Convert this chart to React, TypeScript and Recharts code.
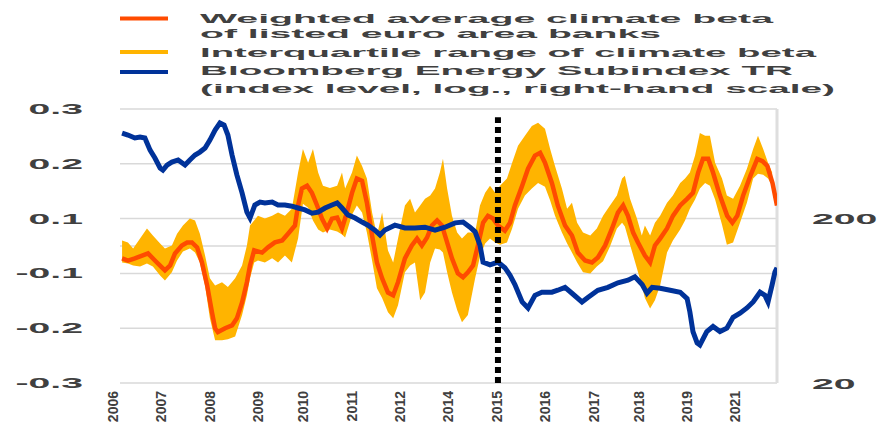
import React from "react";
import {
  ComposedChart,
  Area,
  Line,
  XAxis,
  YAxis,
  CartesianGrid,
  ReferenceLine,
} from "recharts";

// x positions are months counted from the start of 2006
const betaMonths = [
  0.6, 2.3, 4.3, 6.4, 8.1, 10.1, 12.1, 13.0, 14.5, 15.9, 17.9, 19.4, 20.8, 22.3, 23.7, 25.2,
  26.6, 27.5, 28.3, 30.4, 32.4, 33.8, 35.3, 36.7, 37.6, 38.8, 41.1, 42.8, 44.8, 46.9, 48.6,
  50.6, 51.5, 52.6, 54.1, 55.5, 57.0, 58.4, 59.9, 61.3, 62.8, 64.2, 65.6, 67.1, 68.5, 70.0,
  71.4, 72.9, 74.3, 75.8, 77.5, 79.0, 80.4, 82.4, 84.4, 85.9, 87.3, 88.8, 90.2, 91.7, 93.1,
  94.6, 96.0, 97.7, 99.2, 100.6, 102.1, 103.5, 105.0, 106.4, 107.9, 109.3, 111.3, 112.8,
  114.2, 116.3, 118.0, 120.0, 121.5, 122.9, 124.9, 126.6, 128.7, 130.7, 132.4, 134.5, 136.5,
  138.2, 140.3, 142.3, 144.0, 145.5, 146.9, 148.4, 149.8, 151.8, 153.3, 154.7, 156.2, 158.2,
  159.9, 162.0, 164.0, 165.7, 167.2, 168.6, 170.1, 171.5, 173.5, 175.6, 177.1, 178.5, 180.2,
  182.3, 184.3, 185.8, 187.2, 188.7, 190.0,
];
const betaValues = [
  -0.045, -0.053, -0.045, -0.035, -0.027, -0.053, -0.078, -0.089, -0.071, -0.027, 0.002, 0.013,
  0.013, -0.005, -0.06, -0.122, -0.171, -0.2, -0.207, -0.2, -0.195, -0.182, -0.153, -0.116,
  -0.071, -0.016, -0.024, -0.005, 0.013, 0.02, 0.045, 0.075, 0.124, 0.155, 0.16, 0.147, 0.124,
  0.1, 0.064, 0.1, 0.102, 0.064, 0.111, 0.147, 0.173, 0.169, 0.129, 0.038, -0.06, -0.109,
  -0.135, -0.14, -0.116, -0.045, 0.002, 0.027, 0.002, 0.031, 0.075, 0.093, 0.075, 0.013,
  -0.045, -0.1, -0.107, -0.096, -0.071, 0.002, 0.085, 0.105, 0.1, 0.075, 0.056, 0.085, 0.124,
  0.16, 0.191, 0.215, 0.22, 0.202, 0.165, 0.124, 0.075, 0.038, -0.024, -0.053, -0.06, -0.042,
  0.002, 0.064, 0.111, 0.124, 0.105, 0.049, 0.013, -0.035, -0.06, 0.002, 0.027, 0.064, 0.105,
  0.124, 0.136, 0.147, 0.184, 0.209, 0.209, 0.184, 0.142, 0.105, 0.085, 0.105, 0.142, 0.178,
  0.209, 0.205, 0.196, 0.165, 0.124,
];

const iqrMonths = [
  0.6, 2.3, 3.8, 5.8, 7.8, 9.5, 11.6, 13.0, 15.0, 16.5, 18.2, 20.2, 21.7, 23.1, 24.6, 26.0,
  27.5, 29.5, 31.2, 33.3, 35.3, 36.7, 37.6, 38.8, 39.9, 41.9, 44.0, 45.7, 47.7, 49.7, 51.5,
  52.9, 54.4, 55.8, 57.3, 58.7, 60.7, 62.8, 64.2, 65.1, 67.1, 68.5, 70.0, 71.4, 72.9, 74.3,
  75.8, 77.5, 79.0, 80.4, 82.4, 83.9, 85.3, 86.8, 88.2, 89.7, 91.1, 92.5, 93.4, 94.6, 96.0,
  97.5, 98.9, 100.6, 102.7, 104.1, 105.6, 107.0, 108.5, 109.9, 111.9, 113.4, 115.1, 117.1,
  119.1, 120.9, 122.9, 124.4, 125.8, 127.8, 129.3, 130.7, 132.2, 133.9, 136.0, 137.9, 139.7,
  141.7, 143.7, 145.2, 146.0, 147.5, 149.5, 150.9, 151.8, 153.3, 154.7, 156.2, 158.2, 159.9,
  162.0, 163.4, 164.8, 166.3, 167.7, 169.2, 170.6, 172.1, 174.1, 175.5, 177.3, 179.3, 181.3,
  183.1, 184.5, 186.0, 187.4, 188.6,
];
const iqrLow = [
  -0.06, -0.064, -0.071, -0.075, -0.064, -0.075, -0.104, -0.113, -0.096, -0.053, -0.02, -0.009,
  -0.024, -0.06, -0.122, -0.182, -0.222, -0.222, -0.22, -0.215, -0.176, -0.14, -0.109, -0.06,
  -0.053, -0.06, -0.045, -0.06, -0.035, -0.06, 0.027, 0.127, 0.12, 0.093, 0.06, 0.049, 0.06,
  0.053, 0.042, 0.031, 0.107, 0.124, 0.111, 0.049, -0.053, -0.127, -0.145, -0.171, -0.182,
  -0.158, -0.096, -0.071, -0.06, -0.149, -0.135, -0.06, -0.009, -0.013, -0.024, -0.096, -0.135,
  -0.167, -0.189, -0.176, -0.109, -0.038, 0.009, 0.027, 0.013, 0.005, 0.013, 0.064, 0.118,
  0.142, 0.155, 0.165, 0.158, 0.133, 0.105, 0.049, 0.009, -0.024, -0.06, -0.096, -0.1, -0.075,
  -0.056, -0.002, 0.064, 0.085, 0.071, 0.005, -0.082, -0.122, -0.145, -0.164, -0.149, -0.122,
  -0.024, 0.02, 0.06, 0.093, 0.118, 0.135, 0.155, 0.165, 0.16, 0.135, 0.078, 0.005, 0.013,
  0.085, 0.129, 0.173, 0.182, 0.18, 0.173, 0.16,
];
const iqrHigh = [
  0.02, 0.013, -0.009, 0.027, 0.064, 0.038, 0.009, -0.009, 0.002, 0.045, 0.075, 0.1, 0.093,
  0.045, -0.035, -0.109, -0.122, -0.116, -0.125, -0.109, -0.071, 0.002, 0.075, 0.093, 0.105,
  0.1, 0.105, 0.111, 0.105, 0.118, 0.184, 0.227, 0.202, 0.227, 0.184, 0.16, 0.156, 0.16, 0.184,
  0.155, 0.184, 0.215, 0.196, 0.173, 0.111, 0.038, 0.111, -0.016, -0.06, 0.027, 0.124, 0.136,
  0.111, 0.124, 0.136, 0.142, 0.155, 0.184, 0.209, 0.155, 0.105, 0.049, 0.027, 0.049, 0.049,
  0.124, 0.147, 0.16, 0.147, 0.16, 0.173, 0.202, 0.233, 0.251, 0.269, 0.275, 0.264, 0.227,
  0.196, 0.155, 0.118, 0.129, 0.085, 0.049, 0.038, 0.064, 0.105, 0.124, 0.142, 0.173, 0.178,
  0.136, 0.1, 0.038, 0.075, 0.038, 0.085, 0.105, 0.129, 0.142, 0.165, 0.173, 0.184, 0.215,
  0.256, 0.251, 0.251, 0.202, 0.173, 0.142, 0.136, 0.16, 0.191, 0.227, 0.251, 0.227, 0.202,
  0.184,
];

// Bloomberg Energy Subindex TR, index level (log scale)
const energyMonths = [
  0.6, 2.3, 4.3, 5.8, 7.2, 8.7, 10.1, 11.6, 12.4, 13.6, 15.0, 16.8, 18.8, 20.2, 21.7, 23.1,
  24.6, 26.0, 27.5, 28.9, 30.1, 31.2, 32.4, 33.8, 35.3, 36.7, 37.6, 39.0, 40.5, 41.9, 44.0,
  45.7, 47.7, 49.7, 51.5, 53.5, 55.5, 57.3, 59.3, 61.3, 62.8, 64.2, 65.9, 68.0, 70.0, 71.7,
  73.7, 75.2, 76.6, 79.5, 82.4, 85.3, 88.2, 91.1, 94.0, 96.9, 99.2, 101.2, 102.7, 104.1, 105.0,
  107.0, 109.3, 111.3, 112.8, 114.2, 116.3, 118.0, 120.0, 122.0, 124.9, 126.6, 128.7, 130.7,
  133.6, 135.3, 138.2, 141.1, 144.0, 146.9, 148.9, 151.0, 152.4, 153.9, 156.2, 159.1, 162.0,
  164.0, 164.8, 165.7, 166.9, 167.7, 169.7, 171.5, 173.5, 175.5, 177.3, 179.3, 181.3, 183.1,
  185.1, 186.5, 187.4, 188.6, 189.4, 190.0,
];
const energyIndex = [
  655, 637, 611, 619, 611, 516, 462, 402, 391, 419, 437, 450, 419, 450, 482, 502, 531, 594, 683,
  753, 732, 637, 482, 365, 284, 217, 200, 240, 250, 247, 250, 240, 240, 236, 230, 224, 214, 217,
  230, 240, 247, 230, 209, 200, 189, 181, 169, 158, 169, 181, 174, 174, 176, 169, 176, 187, 189,
  176, 165, 137, 108, 104, 108, 100, 90, 79, 62, 57, 68, 71, 71, 73, 76, 70, 62, 66, 73, 76, 81,
  84, 88, 79, 70, 76, 75, 73, 71, 65, 54, 41, 35, 34, 41, 44, 41, 43, 50, 53, 57, 62, 71, 68, 62,
  79, 94, 100,
];

const xTickMonths = [0, 14, 28, 42, 55, 69, 83, 97, 111, 125, 139, 152, 166, 180];
const xTickLabels = [
  "2006", "2007", "2008", "2009", "2010", "2011", "2012",
  "2014", "2015", "2016", "2017", "2018", "2019", "2021",
];
const leftTickValues = [0.3, 0.2, 0.1, -0.1, -0.2, -0.3];
const rightTickValues = [20, 200];
const parisMonth = 109.3;

const legendLines = [
  ["Weighted average climate beta", "of listed euro area banks"],
  ["Interquartile range of climate beta"],
  ["Bloomberg Energy Subindex TR", "(index level, log., right-hand scale)"],
];

const COLORS = {
  beta: "#ff4b00",
  iqr: "#ffb400",
  energy: "#003299",
  grid: "#d9d9d9",
  text: "#404040",
};
const FONT = '"Liberation Sans", Arial, sans-serif';
const STRETCH = 2.8; // lettering on the value axes is drawn wide

// the left scale squeezes the band between -0.1 and 0.1 to half a step
const toAxis = (v: number) =>
  v >= 0.1 ? 0.5 + (v - 0.1) * 10 : v <= -0.1 ? -0.5 + (v + 0.1) * 10 : v * 5;
const fromAxis = (u: number) =>
  u >= 0.5 ? 0.1 + (u - 0.5) / 10 : u <= -0.5 ? -0.1 + (u + 0.5) / 10 : u / 5;

const betaData = betaMonths.map((t, i) => ({ t, beta: toAxis(betaValues[i]) }));
const iqrData = iqrMonths.map((t, i) => ({
  t,
  range: [toAxis(iqrLow[i]), toAxis(iqrHigh[i])],
}));
const energyData = energyMonths.map((t, i) => ({ t, energy: energyIndex[i] }));
const leftTicks = [...leftTickValues.map(toAxis), 0];

const renderLeftTick = ({ x, y, payload }: any) => {
  const v = fromAxis(payload.value);
  if (Math.abs(v) < 1e-6) return <g />;
  return (
    <g transform={`translate(${x},${y}) scale(${STRETCH},1)`}>
      <text
        textAnchor="end"
        dy="0.36em"
        fontSize={14}
        fontWeight="bold"
        fontFamily={FONT}
        fill={COLORS.text}
      >
        {v.toFixed(1)}
      </text>
    </g>
  );
};

const renderRightTick = ({ x, y, payload }: any) => (
  <g transform={`translate(${x},${y}) scale(${STRETCH},1)`}>
    <text
      textAnchor="start"
      dy="0.45em"
      fontSize={14}
      fontWeight="bold"
      fontFamily={FONT}
      fill={COLORS.text}
    >
      {payload.value}
    </text>
  </g>
);

// year labels run upwards; the matrix turns the text a quarter turn anticlockwise
const renderYearTick = ({ x, y, payload }: any) => {
  const label = xTickLabels[xTickMonths.indexOf(payload.value)] ?? "";
  return (
    <g transform={`matrix(0,-1,1,0,${x - 7},${y})`}>
      <text
        x={0}
        y={0}
        textAnchor="end"
        dy="0.36em"
        fontSize={14}
        fontWeight="bold"
        fontFamily={FONT}
        fill={COLORS.text}
      >
        {label}
      </text>
    </g>
  );
};

function ChartLegend() {
  const swatchY = [18.5, 52, 72];
  const colors = [COLORS.beta, COLORS.iqr, COLORS.energy];
  const baselines = [[23, 38], [57], [75, 93]];
  const lengths = [[573, 461], [616], [593, 635]];
  return (
    <svg width={887} height={100} style={{ position: "absolute", left: 0, top: 0 }}>
      {legendLines.map((lines, i) => (
        <g key={i}>
          <line x1={120} x2={168} y1={swatchY[i]} y2={swatchY[i]} stroke={colors[i]} strokeWidth={4} />
          {lines.map((txt, j) => (
            <text
              key={j}
              x={200}
              y={baselines[i][j]}
              fontSize={13.5}
              fontWeight="bold"
              fontFamily={FONT}
              fill={COLORS.text}
              textLength={lengths[i][j]}
              lengthAdjust="spacingAndGlyphs"
            >
              {txt}
            </text>
          ))}
        </g>
      ))}
    </svg>
  );
}

export default function App() {
  return (
    <div
      style={{
        position: "absolute",
        left: 0,
        top: 0,
        width: 887,
        height: 427,
        background: "#ffffff",
      }}
    >
      <ComposedChart width={887} height={427} margin={{ top: 109, right: 0, bottom: 0, left: 0 }}>
        <CartesianGrid yAxisId="left" vertical={false} stroke={COLORS.grid} strokeWidth={1.5} />
        <XAxis
          type="number"
          dataKey="t"
          domain={[0, 190]}
          ticks={xTickMonths}
          interval={0}
          tick={renderYearTick}
          tickSize={0}
          tickMargin={8}
          axisLine={false}
          tickLine={false}
          height={44}
          allowDataOverflow
        />
        <YAxis
          yAxisId="left"
          type="number"
          domain={[-2.5, 2.5]}
          ticks={leftTicks}
          interval={0}
          tick={renderLeftTick}
          tickSize={0}
          tickMargin={37}
          axisLine={false}
          tickLine={false}
          width={120}
        />
        <YAxis
          yAxisId="right"
          orientation="right"
          type="number"
          scale="log"
          domain={[20, 916]}
          ticks={rightTickValues}
          interval={0}
          tick={renderRightTick}
          tickSize={0}
          tickMargin={35}
          axisLine={false}
          tickLine={false}
          width={110}
          allowDataOverflow
        />
        <ReferenceLine yAxisId="left" x={190} stroke="#dedede" strokeWidth={3} />
        <Area
          yAxisId="left"
          data={iqrData}
          dataKey="range"
          type="linear"
          stroke="none"
          fill={COLORS.iqr}
          fillOpacity={1}
          isAnimationActive={false}
        />
        <Line
          yAxisId="left"
          data={betaData}
          dataKey="beta"
          type="linear"
          stroke={COLORS.beta}
          strokeWidth={4.5}
          dot={false}
          isAnimationActive={false}
        />
        <Line
          yAxisId="right"
          data={energyData}
          dataKey="energy"
          type="linear"
          stroke={COLORS.energy}
          strokeWidth={5}
          dot={false}
          isAnimationActive={false}
        />
        <ReferenceLine
          yAxisId="left"
          segment={[
            { x: parisMonth, y: -2.5 },
            { x: parisMonth, y: 2.35 },
          ]}
          stroke="#000000"
          strokeWidth={6}
          strokeDasharray="6 4"
        />
      </ComposedChart>
      <ChartLegend />
    </div>
  );
}
